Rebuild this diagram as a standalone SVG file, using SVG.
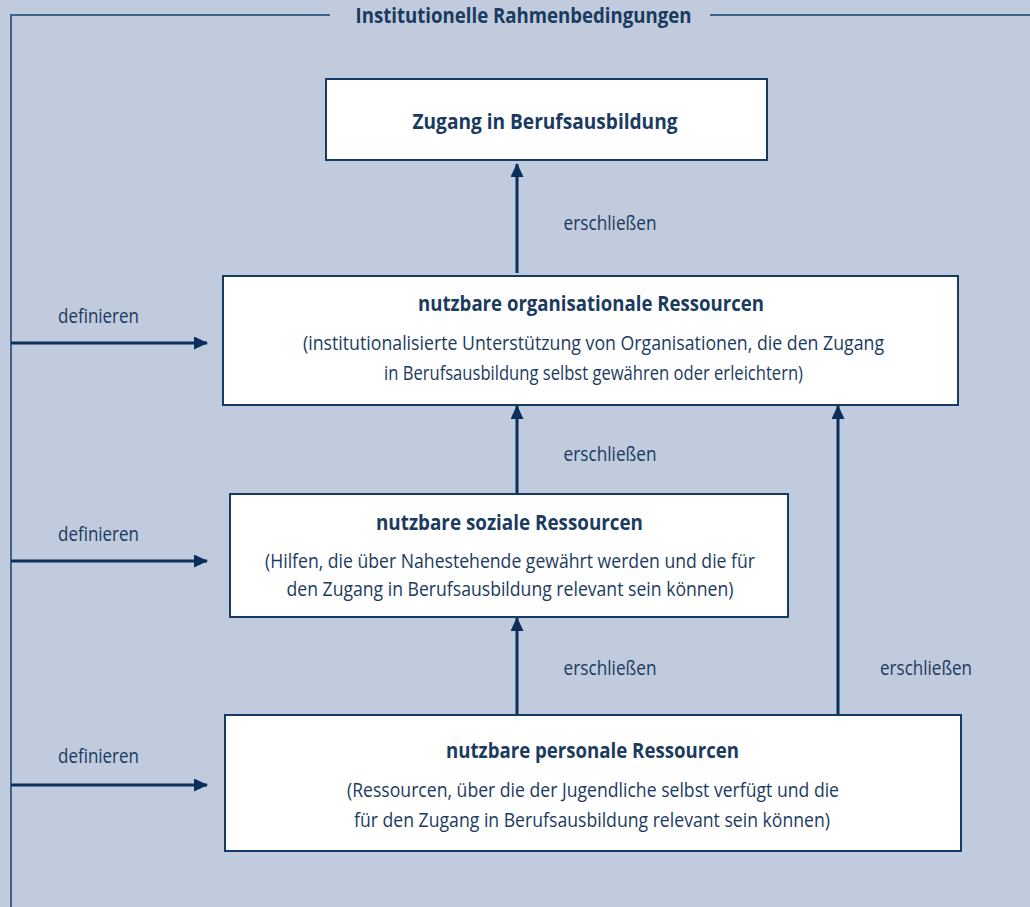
<svg xmlns="http://www.w3.org/2000/svg" width="1030" height="907" viewBox="0 0 1030 907">
<style>
text{font-family:"Open Sans","Noto Sans","Liberation Sans",sans-serif;fill:#1b3a5f;font-size:20px;text-anchor:middle}
.b{font-weight:bold;font-size:20.5px}
.box{fill:#ffffff;stroke:#163b63;stroke-width:2}
.frame{fill:none;stroke:#3f6288;stroke-width:2}
.arr{stroke:#0b2f5b;stroke-width:3;fill:none}
</style>
<defs>
<marker id="ah" viewBox="0 0 14 13" refX="13" refY="6.5" markerWidth="14" markerHeight="13" markerUnits="userSpaceOnUse" orient="auto">
<path d="M0,0 L14,6.5 L0,13 Z" fill="#0b2f5b"/>
</marker>
</defs>
<rect width="1030" height="907" fill="#c0cbdd"/>
<g id="frame">
<path class="frame" d="M330,15 H11 V907 M710,15 H1030"/>
<text class="b" x="523.5" y="23" textLength="336" lengthAdjust="spacingAndGlyphs">Institutionelle Rahmenbedingungen</text>
</g>
<g id="connectors">
<line class="arr" x1="517" y1="273" x2="517" y2="164" marker-end="url(#ah)"/>
<line class="arr" x1="517" y1="493" x2="517" y2="406" marker-end="url(#ah)"/>
<line class="arr" x1="517" y1="714" x2="517" y2="618" marker-end="url(#ah)"/>
<line class="arr" x1="838" y1="714" x2="838" y2="406" marker-end="url(#ah)"/>
<line class="arr" x1="11" y1="343" x2="207" y2="343" marker-end="url(#ah)"/>
<line class="arr" x1="11" y1="561" x2="207" y2="561" marker-end="url(#ah)"/>
<line class="arr" x1="11" y1="785" x2="207" y2="785" marker-end="url(#ah)"/>
<text x="610" y="230" textLength="93" lengthAdjust="spacingAndGlyphs">erschließen</text>
<text x="610" y="461" textLength="93" lengthAdjust="spacingAndGlyphs">erschließen</text>
<text x="610" y="675" textLength="93" lengthAdjust="spacingAndGlyphs">erschließen</text>
<text x="926" y="675" textLength="92" lengthAdjust="spacingAndGlyphs">erschließen</text>
<text x="98.5" y="323" textLength="81" lengthAdjust="spacingAndGlyphs">definieren</text>
<text x="98.5" y="541" textLength="81" lengthAdjust="spacingAndGlyphs">definieren</text>
<text x="98.5" y="763" textLength="81" lengthAdjust="spacingAndGlyphs">definieren</text>
</g>
<g id="zugang">
<rect class="box" x="326" y="79" width="441" height="81"/>
<text class="b" x="545" y="129" textLength="265" lengthAdjust="spacingAndGlyphs">Zugang in Berufsausbildung</text>
</g>
<g id="organisationale">
<rect class="box" x="223" y="276" width="735" height="129"/>
<text class="b" x="591" y="311" textLength="346" lengthAdjust="spacingAndGlyphs">nutzbare organisationale Ressourcen</text>
<text x="593.5" y="350" textLength="581" lengthAdjust="spacingAndGlyphs">(institutionalisierte Unterstützung von Organisationen, die den Zugang</text>
<text x="593.5" y="380" textLength="419" lengthAdjust="spacingAndGlyphs">in Berufsausbildung selbst gewähren oder erleichtern)</text>
</g>
<g id="soziale">
<rect class="box" x="230" y="494" width="558" height="123"/>
<text class="b" x="509.5" y="530" textLength="267" lengthAdjust="spacingAndGlyphs">nutzbare soziale Ressourcen</text>
<text x="510" y="568" textLength="490" lengthAdjust="spacingAndGlyphs">(Hilfen, die über Nahestehende gewährt werden und die für</text>
<text x="510" y="596" textLength="447" lengthAdjust="spacingAndGlyphs">den Zugang in Berufsausbildung relevant sein können)</text>
</g>
<g id="personale">
<rect class="box" x="225" y="715" width="736" height="136"/>
<text class="b" x="592.5" y="758" textLength="293" lengthAdjust="spacingAndGlyphs">nutzbare personale Ressourcen</text>
<text x="593" y="797" textLength="492" lengthAdjust="spacingAndGlyphs">(Ressourcen, über die der Jugendliche selbst verfügt und die</text>
<text x="592" y="827" textLength="476" lengthAdjust="spacingAndGlyphs">für den Zugang in Berufsausbildung relevant sein können)</text>
</g>
</svg>
